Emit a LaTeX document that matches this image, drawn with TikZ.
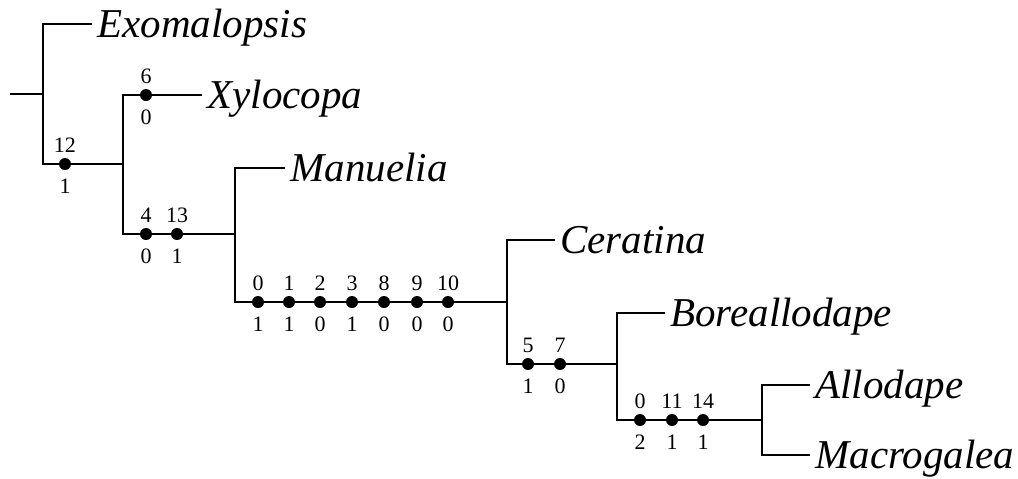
\documentclass[tikz,border=0pt]{standalone}
\usepackage{fontspec}
\setmainfont{Liberation Serif}
\newfontfamily\treefont{Liberation Serif}
\usetikzlibrary{positioning}
\tikzset{
    line cap=round,
    line join=round,
    branch/.style={
        draw=black,
        line width=0.6pt
    },
    taxon/.style={
        font=\treefont\fontsize{20.5}{22}\selectfont\itshape,
        anchor=base west,
        inner sep=0pt
    },
    charnum/.style={
        font=\treefont\fontsize{11}{12}\selectfont,
        inner sep=0pt
    },
    synapo/.style={
        circle,
        fill=black,
        inner sep=0pt,
        minimum size=6pt
    },
    change/.style 2 args={
        synapo,
        label={[charnum, label distance=2.2pt]above:#1},
        label={[charnum, label distance=4.2pt]below:#2}
    }
}

\begin{document}
\begin{tikzpicture}[x=0.5pt, y=-0.5pt]

\useasboundingbox (0,0) rectangle (1018,478);

% Internal nodes of the tree
\coordinate (r0) at (10, 94);
\coordinate (n1) at (43, 94);
\coordinate (n2) at (123, 164);
\coordinate (n3) at (235, 234);
\coordinate (n4) at (507, 302);
\coordinate (n5) at (617, 364);
\coordinate (n6) at (762, 420);

% Tips
\coordinate (t1) at (92, 24);
\coordinate (t2) at (202, 95);
\coordinate (t3) at (285, 168);
\coordinate (t4) at (555, 240);
\coordinate (t5) at (665, 313);
\coordinate (t6) at (810, 385);
\coordinate (t7) at (810, 455);

% Branches
\draw[branch] (r0) -- (n1);
\draw[branch] (n1) |- (t1);
\draw[branch] (n1) |- (n2);
\draw[branch] (n2) |- (t2);
\draw[branch] (n2) |- (n3);
\draw[branch] (n3) |- (t3);
\draw[branch] (n3) |- (n4);
\draw[branch] (n4) |- (t4);
\draw[branch] (n4) |- (n5);
\draw[branch] (n5) |- (t5);
\draw[branch] (n5) |- (n6);
\draw[branch] (n6) |- (t6);
\draw[branch] (n6) |- (t7);

% Taxon names
\node[taxon] (exo) at ([shift={(2.5pt,-6.5pt)}]t1) {Exomalopsis};
\node[taxon] (xyl) at ([shift={(2.5pt,-6.5pt)}]t2) {Xylocopa};
\node[taxon] (man) at ([shift={(2.5pt,-6.5pt)}]t3) {Manuelia};
\node[taxon] (cer) at ([shift={(2.5pt,-6.5pt)}]t4) {Ceratina};
\node[taxon] (bor) at ([shift={(2.5pt,-6.5pt)}]t5) {Boreallodape};
\node[taxon] (all) at ([shift={(2.5pt,-6.5pt)}]t6) {Allodape};
\node[taxon] (mac) at ([shift={(2.5pt,-6.5pt)}]t7) {Macrogalea};

% Character changes
\node[change={12}{1}] (a12) at (65, 164) {};
\node[change={6}{0}] (b6) at (146, 95) {};
\node[change={4}{0}] (c4) at (146, 234) {};
\node[change={13}{1}] (c13) at (177, 234) {};

\node[change={0}{1}] (d0) at (258, 302) {};
\node[change={1}{1}] (d1) at (289, 302) {};
\node[change={2}{0}] (d2) at (320, 302) {};
\node[change={3}{1}] (d3) at (352, 302) {};
\node[change={8}{0}] (d8) at (384, 302) {};
\node[change={9}{0}] (d9) at (417, 302) {};
\node[change={10}{0}] (d10) at (448, 302) {};

\node[change={5}{1}] (e5) at (528, 364) {};
\node[change={7}{0}] (e7) at (560, 364) {};

\node[change={0}{2}] (f0) at (640, 420) {};
\node[change={11}{1}] (f11) at (672, 420) {};
\node[change={14}{1}] (f14) at (703, 420) {};

\end{tikzpicture}
\end{document}
